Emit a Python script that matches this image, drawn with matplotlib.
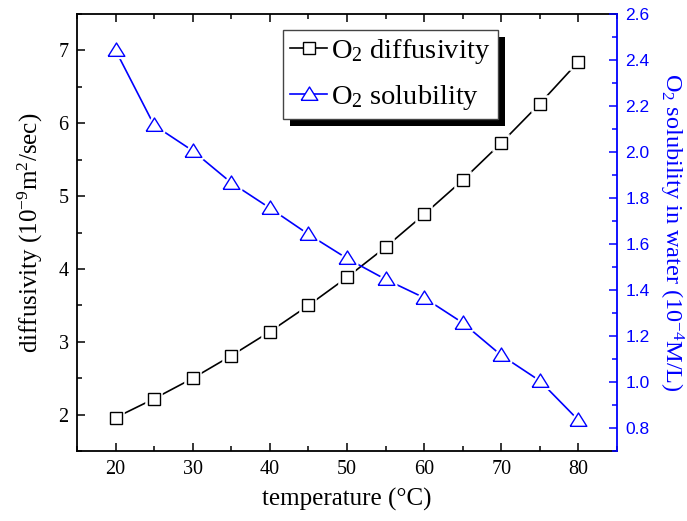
import matplotlib
matplotlib.use("Agg")
import matplotlib.pyplot as plt
import matplotlib.patheffects as pe
from matplotlib.ticker import MultipleLocator, FormatStrFormatter

# data
temperature = [20, 25, 30, 35, 40, 45, 50, 55, 60, 65, 70, 75, 80]
diffusivity = [1.96, 2.22, 2.50, 2.81, 3.14, 3.50, 3.885, 4.30, 4.75, 5.22, 5.73, 6.27, 6.845]
solubility = [2.443, 2.117, 2.006, 1.867, 1.757, 1.643, 1.538, 1.447, 1.367, 1.258, 1.117, 1.006, 0.835]

plt.rcParams["font.family"] = ["Liberation Serif", "DejaVu Serif"]
plt.rcParams["mathtext.fontset"] = "custom"
plt.rcParams["mathtext.rm"] = "Liberation Serif"
plt.rcParams["mathtext.it"] = "Liberation Serif:italic"
plt.rcParams["mathtext.bf"] = "Liberation Serif:bold"

BLUE = "#0000ff"
tri = [(-1, -0.7), (1, -0.7), (0, 0.9), (-1, -0.7)]

fig = plt.figure(figsize=(6.87, 5.21), dpi=100)
ax = fig.add_axes([0.112, 0.134, 0.786, 0.839])
ax2 = ax.twinx()


def _plot_gapped(axis, x, y, color, marker, ms):
    """Origin-like line: the segments stop short of the open markers."""
    axis.plot(x, y, color=color, lw=1.2, zorder=2)
    axis.plot(x, y, ls="none", marker=marker, ms=ms, mfc="white", mec="white", mew=4, zorder=3)
    line, = axis.plot(x, y, color=color, lw=1.2, marker=marker, ms=ms, mfc="white",
                      mec=color, mew=1.0, zorder=4, ls="none")
    return line


_plot_gapped(ax, temperature, diffusivity, "black", "s", 9)
_plot_gapped(ax2, temperature, solubility, BLUE, tri, 12)

h1, = ax.plot([], [], color="black", lw=1.2, marker="s", ms=9, mfc="white", mec="black", mew=1.0)
h2, = ax.plot([], [], color=BLUE, lw=1.2, marker=tri, ms=12, mfc="white", mec=BLUE, mew=1.0)

ax.set_xlim(15, 85)
ax.set_ylim(1.5, 7.5)
ax2.set_ylim(0.7, 2.6)

ax.xaxis.set_major_locator(MultipleLocator(10))
ax.xaxis.set_minor_locator(MultipleLocator(5))
ax.yaxis.set_major_locator(MultipleLocator(1))
ax.yaxis.set_minor_locator(MultipleLocator(0.5))
ax2.yaxis.set_major_locator(MultipleLocator(0.2))
ax2.yaxis.set_minor_locator(MultipleLocator(0.1))
ax2.yaxis.set_major_formatter(FormatStrFormatter("%.1f"))

ax.tick_params(axis="both", which="both", direction="in", top=True, right=False,
               width=1.1, labelsize=14.5, pad=6)
ax.tick_params(which="major", length=6)
ax.tick_params(which="minor", length=3.5)
# right-hand tick labels are sans-serif in the original
ax2.tick_params(axis="y", which="both", direction="in", colors=BLUE, width=1.1, pad=6,
                labelsize=12.5, labelfontfamily="Liberation Sans")
ax2.tick_params(which="major", length=6)
ax2.tick_params(which="minor", length=3.5)

for side in ["left", "top", "bottom"]:
    ax.spines[side].set_linewidth(1.3)
ax.spines["right"].set_visible(False)
for side in ["left", "top", "bottom"]:
    ax2.spines[side].set_visible(False)
ax2.spines["right"].set_color(BLUE)
ax2.spines["right"].set_linewidth(1.3)

ax.set_xlabel("temperature (°C)", fontsize=18, labelpad=7)
ax.set_ylabel("diffusivity (10$^{\\mathrm{-9}}$m$^{2}$/sec)", fontsize=18, labelpad=10)
ax2.set_ylabel("O$_{2}$ solubility in water (10$^{\\mathrm{-4}}$M/L)", fontsize=17.5, color=BLUE,
               rotation=270, labelpad=26)

leg = fig.legend([h1, h2], ["O$_2$ diffusivity", "O$_2$ solubility"],
                 loc="upper left", bbox_to_anchor=(283 / 687, 1 - 30 / 521),
                 fontsize=20.5, frameon=True, fancybox=False, framealpha=1, handlelength=1.3,
                 handletextpad=0.15, borderpad=0.25, labelspacing=0.6, borderaxespad=0)
frame = leg.get_frame()
frame.set_edgecolor("#444444")
frame.set_linewidth(1.0)
frame.set_path_effects([pe.SimplePatchShadow(offset=(5, -5), shadow_rgbFace="black", alpha=1),
                        pe.Normal()])

fig.savefig("out.png", dpi=100)
